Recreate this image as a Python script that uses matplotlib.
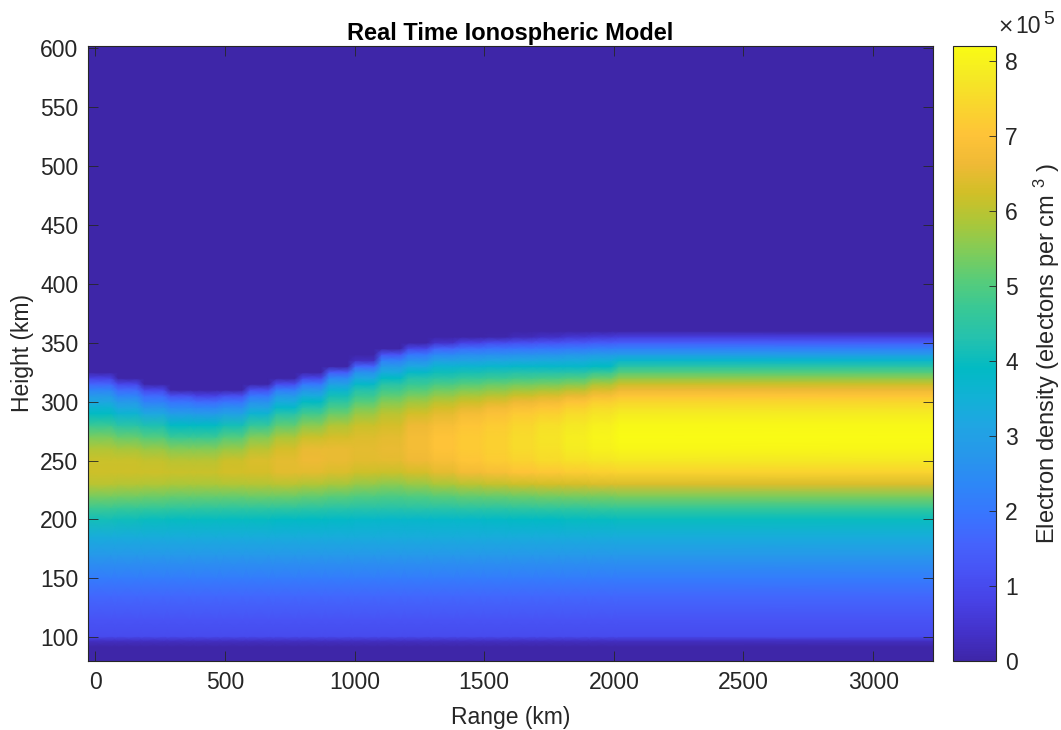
import numpy as np
import matplotlib
matplotlib.use("Agg")
import matplotlib.pyplot as plt
from matplotlib.colors import LinearSegmentedColormap, Normalize
from matplotlib.cm import ScalarMappable

plt.rcParams['font.family'] = ['Liberation Sans', 'DejaVu Sans']
plt.rcParams['mathtext.fontset'] = 'custom'
plt.rcParams['mathtext.rm'] = 'Liberation Sans'
plt.rcParams['mathtext.default'] = 'regular'

DARK = '#262626'

range_edges = [-28, 74, 175, 277, 378, 480, 582, 683, 785, 887, 988, 1090,
               1192, 1293, 1395, 1497, 1598, 1700, 1802, 1903, 2005, 3229]

# Below the F layer the density hardly changes with range (1e5 electrons/cm3)
low_heights = [80, 92, 97, 101, 115, 135, 150, 170, 185]
low_density = [0.0, 0.0, 0.3, 1.0, 1.2, 1.65, 2.1, 2.8, 3.35]

# Above the layer there is nothing
top_heights = [365, 602]
top_density = [0.0, 0.0]

layer_heights = [200, 210, 220, 230, 240, 250, 260, 270, 280, 290, 295, 300,
                 305, 310, 315, 320, 325, 330, 335, 340, 345, 350, 355, 360]

# One row per range bin, one value per layer height
layer_density = [
    [4.1, 4.75, 5.4, 6.0, 6.2, 6.15, 5.9, 5.4, 4.7, 3.9, 3.6, 3.2, 2.8, 2.3, 1.6, 0.8, 0, 0, 0, 0, 0, 0, 0, 0],
    [4.05, 4.7, 5.35, 5.95, 6.2, 6.15, 5.8, 5.2, 4.4, 3.6, 3.2, 2.8, 2.3, 1.7, 0.9, 0, 0, 0, 0, 0, 0, 0, 0, 0],
    [4.0, 4.65, 5.3, 5.9, 6.2, 6.1, 5.7, 5.0, 4.2, 3.2, 2.7, 2.2, 1.7, 0.9, 0, 0, 0, 0, 0, 0, 0, 0, 0, 0],
    [3.95, 4.6, 5.25, 5.85, 6.15, 6.0, 5.5, 4.7, 3.9, 2.9, 2.4, 1.9, 1.1, 0, 0, 0, 0, 0, 0, 0, 0, 0, 0, 0],
    [3.95, 4.55, 5.25, 5.85, 6.15, 6.0, 5.5, 4.7, 3.9, 2.8, 2.3, 1.7, 0.8, 0, 0, 0, 0, 0, 0, 0, 0, 0, 0, 0],
    [3.95, 4.55, 5.25, 5.9, 6.25, 6.2, 5.7, 5.0, 4.1, 3.0, 2.5, 1.9, 1.1, 0, 0, 0, 0, 0, 0, 0, 0, 0, 0, 0],
    [3.95, 4.55, 5.3, 5.95, 6.3, 6.35, 6.0, 5.45, 4.6, 3.6, 3.1, 2.6, 2.0, 1.1, 0, 0, 0, 0, 0, 0, 0, 0, 0, 0],
    [3.9, 4.55, 5.3, 6.0, 6.45, 6.5, 6.3, 5.85, 5.15, 4.3, 3.8, 3.3, 2.8, 2.1, 1.0, 0, 0, 0, 0, 0, 0, 0, 0, 0],
    [3.9, 4.5, 5.2, 5.9, 6.45, 6.6, 6.55, 6.15, 5.55, 4.8, 4.3, 3.9, 3.3, 2.7, 2.0, 0.9, 0, 0, 0, 0, 0, 0, 0, 0],
    [3.85, 4.45, 5.1, 5.8, 6.35, 6.55, 6.55, 6.3, 5.9, 5.25, 4.9, 4.5, 4.1, 3.6, 3.0, 2.4, 1.4, 0, 0, 0, 0, 0, 0, 0],
    [3.8, 4.4, 5.0, 5.65, 6.2, 6.45, 6.5, 6.4, 6.15, 5.7, 5.4, 5.05, 4.7, 4.3, 3.8, 3.2, 2.6, 1.6, 0.3, 0, 0, 0, 0, 0],
    [3.75, 4.4, 4.95, 5.55, 6.15, 6.5, 6.55, 6.5, 6.3, 6.0, 5.75, 5.5, 5.15, 4.8, 4.4, 3.9, 3.3, 2.8, 2.2, 1.2, 0, 0, 0, 0],
    [3.75, 4.45, 5.0, 5.7, 6.3, 6.65, 6.75, 6.75, 6.6, 6.25, 6.0, 5.75, 5.4, 5.05, 4.65, 4.3, 3.8, 3.2, 2.6, 2.0, 0.9, 0, 0, 0],
    [3.8, 4.45, 5.1, 5.85, 6.5, 6.85, 7.0, 7.0, 6.85, 6.5, 6.25, 6.0, 5.65, 5.3, 4.9, 4.45, 4.05, 3.6, 3.0, 2.4, 1.6, 0.4, 0, 0],
    [3.8, 4.5, 5.2, 6.0, 6.7, 7.05, 7.15, 7.15, 7.05, 6.75, 6.5, 6.2, 5.85, 5.45, 5.05, 4.6, 4.15, 3.65, 3.05, 2.5, 1.8, 0.8, 0, 0],
    [3.85, 4.5, 5.25, 6.1, 6.85, 7.2, 7.3, 7.3, 7.2, 6.95, 6.7, 6.4, 6.0, 5.6, 5.2, 4.7, 4.25, 3.7, 3.15, 2.55, 1.9, 1.0, 0.05, 0],
    [3.9, 4.55, 5.3, 6.2, 7.0, 7.35, 7.5, 7.5, 7.4, 7.15, 6.9, 6.6, 6.2, 5.75, 5.3, 4.8, 4.3, 3.75, 3.2, 2.6, 1.95, 1.1, 0.2, 0],
    [3.9, 4.6, 5.35, 6.25, 7.1, 7.5, 7.65, 7.7, 7.6, 7.3, 7.05, 6.75, 6.35, 5.85, 5.35, 4.85, 4.3, 3.75, 3.25, 2.65, 2.0, 1.2, 0.35, 0],
    [3.95, 4.6, 5.4, 6.3, 7.2, 7.65, 7.85, 7.9, 7.8, 7.5, 7.3, 7.0, 6.55, 6.05, 5.5, 4.95, 4.35, 3.75, 3.3, 2.75, 2.05, 1.3, 0.5, 0],
    [3.95, 4.65, 5.4, 6.35, 7.3, 7.75, 8.0, 8.05, 7.95, 7.7, 7.5, 7.25, 6.85, 6.35, 5.85, 5.25, 4.6, 3.9, 3.45, 2.85, 2.15, 1.4, 0.6, 0],
    [4.0, 4.65, 5.45, 6.35, 7.35, 7.8, 8.1, 8.2, 8.12, 7.85, 7.65, 7.4, 7.05, 6.6, 6.15, 5.6, 5.0, 4.4, 3.7, 2.9, 2.2, 1.45, 0.7, 0],
]

x_ticks = [0, 500, 1000, 1500, 2000, 2500, 3000]
y_ticks = [100, 150, 200, 250, 300, 350, 400, 450, 500, 550, 600]
cbar_ticks = [0, 1, 2, 3, 4, 5, 6, 7, 8]

# parula, every third entry of the 64 colour table
parula = [
    (0.2422, 0.1504, 0.6603), (0.2647, 0.1978, 0.7952), (0.2783, 0.2559, 0.8991),
    (0.2810, 0.3228, 0.9579), (0.2699, 0.3892, 0.9906), (0.2206, 0.4603, 0.9973),
    (0.1786, 0.5289, 0.9682), (0.1540, 0.5902, 0.9218), (0.1248, 0.6459, 0.8883),
    (0.0689, 0.6948, 0.8394), (0.0067, 0.7312, 0.7660), (0.1408, 0.7584, 0.6842),
    (0.2161, 0.7843, 0.5923), (0.3406, 0.8008, 0.4789), (0.5044, 0.7993, 0.3480),
    (0.6720, 0.7793, 0.2227), (0.8203, 0.7498, 0.1535), (0.9393, 0.7288, 0.2100),
    (0.9970, 0.7659, 0.2199), (0.9786, 0.8386, 0.1766), (0.9597, 0.9135, 0.1423),
    (0.9769, 0.9839, 0.0805),
]
cmap = LinearSegmentedColormap.from_list('parula', parula, N=256)
norm = Normalize(0, 8.2)

W, H = 1061, 730


def px_axes(left, top, right, bottom):
    return [left / W, 1 - bottom / H, (right - left) / W, (bottom - top) / H]


fig = plt.figure(figsize=(W / 100, H / 100), dpi=100, facecolor='white')
ax = fig.add_axes(px_axes(88, 46, 932.5, 661))

# Stack the three parts, then give each range bin a flat stretch with a short
# ramp to the next bin: colour runs smoothly with height but steps with range.
heights = np.array(low_heights + layer_heights + top_heights, dtype=float)
columns = []
for row in layer_density:
    columns.append(low_density + row + top_density)
density = np.repeat(np.array(columns).T, 2, axis=1)
ramp = 15
x_nodes = []
for left, right in zip(range_edges[:-1], range_edges[1:]):
    x_nodes += [left + ramp, right - ramp]
x_nodes[0] = range_edges[0]
x_nodes[-1] = range_edges[-1]
X, Y = np.meshgrid(x_nodes, heights)
ax.pcolormesh(X, Y, density, shading='gouraud', cmap=cmap, norm=norm)

ax.set_xlim(range_edges[0], range_edges[-1])
ax.set_ylim(80, 601.5)
ax.set_xticks(x_ticks)
ax.set_yticks(y_ticks)
ax.tick_params(direction='in', length=7, width=0.6, top=True, right=True,
               labelsize=16.5, colors=DARK, pad=7)
for s in ax.spines.values():
    s.set_linewidth(0.8)
    s.set_color(DARK)
ax.set_xlabel('Range (km)', fontsize=16.5, color=DARK, labelpad=9)
ax.set_ylabel('Height (km)', fontsize=16.5, color=DARK, labelpad=4)
ax.set_title('Real Time Ionospheric Model', fontsize=17, fontweight='bold',
             color='black', pad=4)

cax = fig.add_axes(px_axes(952.5, 46, 995.5, 661))
cb = fig.colorbar(ScalarMappable(norm=norm, cmap=cmap), cax=cax)
cb.set_ticks(cbar_ticks)
cb.ax.tick_params(direction='in', length=5, width=0.6, labelsize=16.5, colors=DARK, pad=7)
cb.outline.set_linewidth(0.8)
cb.outline.set_edgecolor(DARK)
cb.set_label('Electron density (electons per cm $^{3}$ )', fontsize=17, color=DARK, labelpad=10)

# multiplier above the colour bar, each piece placed on its own
fig.text(997 / W, 1 - 33 / H, '\u00d7', fontsize=14, color=DARK, family='DejaVu Sans', va='baseline')
fig.text(1015 / W, 1 - 33 / H, '10', fontsize=16.5, color=DARK, va='baseline')
fig.text(1043 / W, 1 - 24 / H, '5', fontsize=14, color=DARK, va='baseline')

fig.savefig('out.png', dpi=100)
